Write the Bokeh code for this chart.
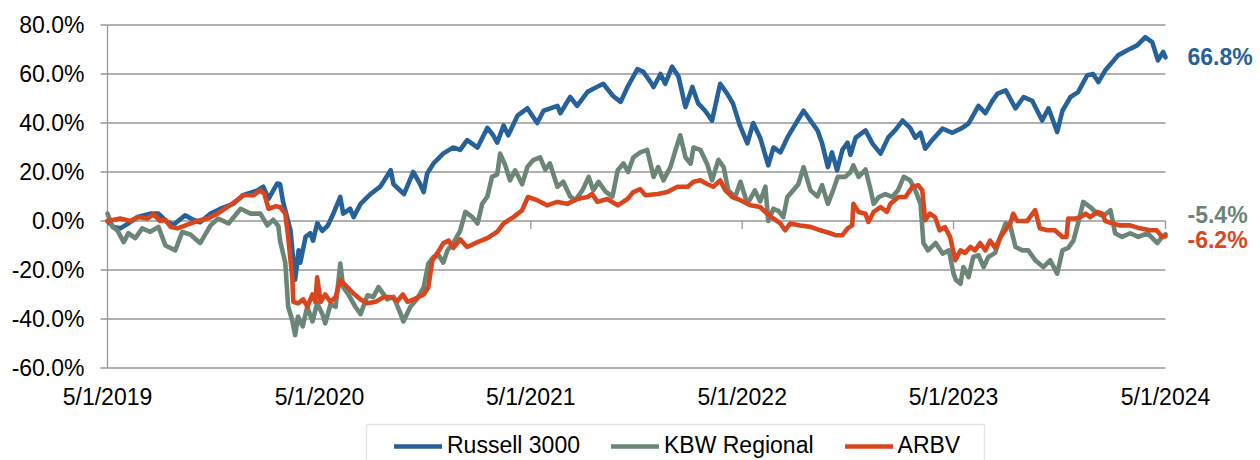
import numpy as np
import pandas as pd
from bokeh.plotting import figure
from bokeh.models import Range1d, Legend, LegendItem, BoxAnnotation
from bokeh.core.properties import value
from bokeh.embed import file_html
from bokeh.resources import INLINE

# ---------------- data (percent) ----------------
russell_dates = [
    "2019-05-01", "2019-05-11", "2019-05-23", "2019-06-06", "2019-06-22", "2019-07-14", "2019-07-28",
    "2019-08-12", "2019-08-23", "2019-09-12", "2019-09-26", "2019-10-08", "2019-10-26", "2019-11-12",
    "2019-12-04", "2019-12-21", "2020-01-15", "2020-01-25", "2020-02-03", "2020-02-18", "2020-02-23",
    "2020-02-28", "2020-03-12", "2020-03-20", "2020-03-24", "2020-03-26", "2020-03-29", "2020-04-07",
    "2020-04-15", "2020-04-20", "2020-04-27", "2020-05-06", "2020-05-15", "2020-05-25", "2020-06-06",
    "2020-06-11", "2020-06-23", "2020-06-29", "2020-07-11", "2020-07-28", "2020-08-14", "2020-09-01",
    "2020-09-06", "2020-09-24", "2020-10-10", "2020-10-22", "2020-10-28", "2020-11-03", "2020-11-14",
    "2020-12-01", "2020-12-18", "2020-12-30", "2021-01-11", "2021-01-29", "2021-02-15", "2021-02-25",
    "2021-03-04", "2021-03-15", "2021-03-23", "2021-04-08", "2021-04-25", "2021-05-12", "2021-05-23",
    "2021-06-16", "2021-06-21", "2021-07-08", "2021-07-20", "2021-08-07", "2021-08-17", "2021-09-03",
    "2021-09-20", "2021-10-03", "2021-10-15", "2021-11-01", "2021-11-11", "2021-11-23", "2021-11-29",
    "2021-12-11", "2021-12-19", "2021-12-31", "2022-01-11", "2022-01-23", "2022-02-04", "2022-02-14",
    "2022-02-26", "2022-03-10", "2022-03-24", "2022-04-05", "2022-04-15", "2022-04-27", "2022-05-10",
    "2022-05-20", "2022-06-01", "2022-06-15", "2022-06-24", "2022-07-06", "2022-07-18", "2022-07-28",
    "2022-08-15", "2022-08-27", "2022-09-08", "2022-09-16", "2022-09-26", "2022-10-03", "2022-10-12",
    "2022-10-21", "2022-10-30", "2022-11-04", "2022-11-13", "2022-11-30", "2022-12-12", "2022-12-26",
    "2023-01-08", "2023-01-20", "2023-02-02", "2023-02-15", "2023-02-24", "2023-03-05", "2023-03-13",
    "2023-03-25", "2023-04-12", "2023-04-29", "2023-05-16", "2023-05-27", "2023-06-13", "2023-06-25",
    "2023-07-07", "2023-07-16", "2023-07-30", "2023-08-16", "2023-08-30", "2023-09-14", "2023-10-01",
    "2023-10-12", "2023-10-27", "2023-11-05", "2023-11-19", "2023-12-02", "2023-12-18", "2023-12-28",
    "2024-01-06", "2024-01-18", "2024-01-27", "2024-02-09", "2024-02-25", "2024-03-13", "2024-03-27",
    "2024-04-08", "2024-04-18", "2024-04-27", "2024-05-01",
]
russell_values = [
    0.0, -2.4, -3.0, -1.0, 1.6, 3.0, 3.0,
    -0.4, -1.5, 2.3, 0.5, -0.5, 3.0, 5.0,
    7.0, 10.5, 12.5, 14.0, 9.0, 15.3, 15.0,
    8.0, -3.8, -24.0, -16.0, -12.0, -17.0, -6.5,
    -5.0, -8.0, -1.0, -4.0, -2.0, 3.0, 9.8,
    3.0, 5.0, 1.6, 7.0, 11.0, 14.0, 20.7,
    15.0, 11.0, 20.0, 15.0, 11.8, 19.4, 23.5,
    27.6, 30.0, 29.0, 33.0, 30.0, 38.0, 35.0,
    32.0, 39.0, 35.0, 43.0, 46.0, 40.0, 45.0,
    47.0, 44.0, 50.6, 47.0, 52.7, 54.0, 56.0,
    51.0, 48.6, 54.7, 62.0, 61.0, 57.0, 54.7,
    60.0, 56.0, 63.0, 59.0, 46.5, 54.7, 48.0,
    45.0, 41.0, 56.0, 52.0, 48.0, 39.0, 31.7,
    40.0, 34.0, 22.7, 30.0, 28.0, 34.0, 38.0,
    45.0, 41.0, 37.0, 31.7, 22.0, 28.0, 20.7,
    29.0, 32.0, 27.0, 34.0, 37.0, 31.6, 27.5,
    34.0, 37.0, 41.0, 38.0, 34.0, 36.0, 29.5,
    33.0, 37.7, 36.0, 38.0, 39.8, 47.0, 44.0,
    49.0, 52.0, 53.3, 46.0, 50.6, 49.0, 41.0,
    46.0, 36.3, 45.0, 50.6, 52.6, 59.5, 60.0,
    56.7, 61.5, 64.0, 67.6, 69.7, 71.7, 75.0,
    73.0, 65.6, 69.0, 66.8,
]

kbw_dates = [
    "2019-05-01", "2019-05-10", "2019-05-18", "2019-05-29", "2019-06-06", "2019-06-18", "2019-06-30",
    "2019-07-14", "2019-07-28", "2019-08-09", "2019-08-26", "2019-09-07", "2019-09-21", "2019-10-08",
    "2019-10-26", "2019-11-08", "2019-11-26", "2019-12-17", "2020-01-03", "2020-01-20", "2020-02-01",
    "2020-02-11", "2020-02-20", "2020-02-23", "2020-03-03", "2020-03-08", "2020-03-15", "2020-03-20",
    "2020-03-25", "2020-04-02", "2020-04-10", "2020-04-19", "2020-04-27", "2020-05-06", "2020-05-11",
    "2020-05-20", "2020-05-29", "2020-06-06", "2020-06-11", "2020-06-20", "2020-07-02", "2020-07-11",
    "2020-07-23", "2020-08-02", "2020-08-11", "2020-08-26", "2020-09-06", "2020-09-18", "2020-09-23",
    "2020-10-05", "2020-10-17", "2020-10-28", "2020-11-05", "2020-11-14", "2020-11-23", "2020-12-01",
    "2020-12-08", "2020-12-18", "2020-12-30", "2021-01-08", "2021-01-20", "2021-01-29", "2021-02-06",
    "2021-02-15", "2021-02-23", "2021-03-04", "2021-03-09", "2021-03-18", "2021-03-26", "2021-04-04",
    "2021-04-16", "2021-04-25", "2021-05-05", "2021-05-17", "2021-05-26", "2021-06-03", "2021-06-16",
    "2021-06-26", "2021-07-08", "2021-07-17", "2021-07-29", "2021-08-09", "2021-08-17", "2021-08-26",
    "2021-09-07", "2021-09-19", "2021-09-28", "2021-10-08", "2021-10-16", "2021-10-25", "2021-11-06",
    "2021-11-18", "2021-11-29", "2021-12-07", "2021-12-16", "2021-12-28", "2022-01-06", "2022-01-14",
    "2022-01-23", "2022-02-01", "2022-02-06", "2022-02-18", "2022-03-02", "2022-03-10", "2022-03-21",
    "2022-03-30", "2022-04-07", "2022-04-19", "2022-04-28", "2022-05-10", "2022-05-23", "2022-06-01",
    "2022-06-10", "2022-06-15", "2022-06-24", "2022-07-03", "2022-07-11", "2022-07-18", "2022-07-28",
    "2022-08-06", "2022-08-15", "2022-08-27", "2022-09-08", "2022-09-16", "2022-09-26", "2022-10-05",
    "2022-10-13", "2022-10-26", "2022-11-04", "2022-11-09", "2022-11-18", "2022-11-30", "2022-12-09",
    "2022-12-14", "2022-12-23", "2023-01-03", "2023-01-15", "2023-01-25", "2023-02-04", "2023-02-15",
    "2023-02-24", "2023-03-05", "2023-03-10", "2023-03-18", "2023-03-31", "2023-04-12", "2023-04-23",
    "2023-05-01", "2023-05-05", "2023-05-13", "2023-05-18", "2023-05-27", "2023-06-04", "2023-06-13",
    "2023-06-22", "2023-06-30", "2023-07-12", "2023-07-21", "2023-07-30", "2023-08-07", "2023-08-16",
    "2023-08-28", "2023-09-07", "2023-09-19", "2023-10-03", "2023-10-15", "2023-10-27", "2023-11-05",
    "2023-11-15", "2023-11-24", "2023-12-02", "2023-12-11", "2023-12-23", "2024-01-04", "2024-01-15",
    "2024-01-27", "2024-02-04", "2024-02-16", "2024-03-01", "2024-03-15", "2024-03-31", "2024-04-17",
    "2024-04-25", "2024-05-01",
]
kbw_values = [
    3.0, -2.4, -3.8, -8.6, -5.0, -7.0, -3.0,
    -4.4, -2.4, -10.0, -12.0, -4.5, -5.5, -9.0,
    -1.8, 1.0, -1.0, 5.0, 3.0, 3.0, -1.8,
    0.5, -2.0, -8.0, -17.0, -35.0, -40.5, -46.6,
    -39.0, -43.0, -35.0, -41.0, -33.6, -38.0, -41.8,
    -34.0, -35.0, -17.4, -27.0, -30.0, -35.0, -38.0,
    -30.3, -31.0, -27.0, -32.0, -31.0, -37.8, -41.0,
    -35.0, -31.7, -27.0, -17.4, -14.7, -14.0, -17.0,
    -12.0, -9.0, -4.0, 3.7, 1.6, -1.0, 7.0,
    10.0, 18.0, 19.0, 27.5, 22.7, 16.6, 20.7,
    15.0, 22.0, 24.8, 26.0, 21.0, 23.5, 14.0,
    16.0, 10.0, 8.5, 12.5, 18.0, 12.5, 16.0,
    12.0, 10.0, 20.7, 23.5, 20.0, 26.0, 28.0,
    29.0, 18.0, 22.0, 16.6, 22.0, 29.0, 35.0,
    26.0, 23.4, 30.0, 29.0, 23.0, 16.6, 25.0,
    22.0, 12.5, 9.8, 16.0, 7.0, 12.5, 8.0,
    14.0, 0.0, 5.0, 4.0, 1.6, 9.8, 12.5,
    15.0, 22.0, 12.5, 10.0, 14.6, 7.0, 12.5,
    18.0, 18.0, 20.0, 22.7, 18.0, 21.0, 12.5,
    7.0, 9.8, 11.0, 9.8, 12.5, 18.0, 16.6,
    12.5, 7.0, -9.0, -12.0, -9.0, -13.3, -12.0,
    -21.5, -24.0, -25.6, -18.8, -22.9, -14.7, -14.0,
    -18.8, -14.7, -13.0, -6.5, -1.0, -2.0, -10.6,
    -12.0, -12.0, -16.0, -18.8, -16.0, -21.5, -12.0,
    -11.0, -8.0, -1.0, 7.8, 5.7, 3.0, 2.0,
    4.4, -5.0, -6.5, -5.0, -6.5, -5.0, -9.0,
    -6.5, -5.4,
]

arbv_dates = [
    "2019-05-01", "2019-05-23", "2019-06-10", "2019-06-22", "2019-07-09", "2019-07-19", "2019-07-31",
    "2019-08-09", "2019-08-18", "2019-08-30", "2019-09-16", "2019-10-03", "2019-10-20", "2019-11-07",
    "2019-11-24", "2019-12-11", "2019-12-21", "2020-01-08", "2020-01-20", "2020-01-27", "2020-02-03",
    "2020-02-15", "2020-02-23", "2020-03-03", "2020-03-08", "2020-03-15", "2020-03-17", "2020-03-25",
    "2020-04-03", "2020-04-10", "2020-04-19", "2020-04-24", "2020-04-27", "2020-05-03", "2020-05-11",
    "2020-05-20", "2020-05-29", "2020-06-06", "2020-06-18", "2020-06-29", "2020-07-11", "2020-07-23",
    "2020-08-06", "2020-08-20", "2020-09-01", "2020-09-13", "2020-09-22", "2020-09-30", "2020-10-11",
    "2020-10-28", "2020-11-05", "2020-11-12", "2020-11-21", "2020-12-01", "2020-12-10", "2020-12-18",
    "2020-12-30", "2021-01-11", "2021-01-29", "2021-02-15", "2021-03-04", "2021-03-15", "2021-04-01",
    "2021-04-16", "2021-04-26", "2021-05-12", "2021-05-29", "2021-06-16", "2021-07-03", "2021-07-20",
    "2021-08-07", "2021-08-15", "2021-08-24", "2021-09-10", "2021-09-28", "2021-10-15", "2021-10-25",
    "2021-11-06", "2021-11-15", "2021-12-06", "2021-12-23", "2022-01-09", "2022-01-27", "2022-02-06",
    "2022-02-18", "2022-03-02", "2022-03-12", "2022-03-24", "2022-04-02", "2022-04-14", "2022-04-28",
    "2022-05-15", "2022-06-01", "2022-06-13", "2022-06-24", "2022-07-06", "2022-07-14", "2022-07-23",
    "2022-08-09", "2022-08-27", "2022-09-13", "2022-09-30", "2022-10-09", "2022-10-21", "2022-10-30",
    "2022-11-07", "2022-11-09", "2022-11-18", "2022-11-30", "2022-12-05", "2022-12-14", "2022-12-26",
    "2023-01-06", "2023-01-12", "2023-01-26", "2023-02-07", "2023-02-19", "2023-03-01", "2023-03-08",
    "2023-03-13", "2023-03-21", "2023-03-30", "2023-04-07", "2023-04-16", "2023-04-25", "2023-05-04",
    "2023-05-13", "2023-05-21", "2023-05-30", "2023-06-07", "2023-06-16", "2023-06-25", "2023-07-03",
    "2023-07-12", "2023-07-21", "2023-07-29", "2023-08-07", "2023-08-12", "2023-08-19", "2023-09-05",
    "2023-09-19", "2023-09-27", "2023-10-10", "2023-10-23", "2023-11-05", "2023-11-12", "2023-11-15",
    "2023-11-28", "2023-12-06", "2023-12-15", "2023-12-23", "2024-01-04", "2024-01-13", "2024-01-18",
    "2024-01-30", "2024-02-13", "2024-03-01", "2024-03-18", "2024-04-04", "2024-04-16", "2024-04-25",
    "2024-05-01",
]
arbv_values = [
    0.0, 1.0, 0.0, 1.6, 1.0, 2.8, 0.0,
    0.5, -2.4, -3.0, -1.5, 0.0, 1.0, 3.0,
    5.7, 8.5, 10.5, 10.5, 12.5, 11.0, 5.0,
    6.0, 5.7, 3.0, -6.5, -23.0, -33.0, -33.6,
    -32.0, -35.0, -30.0, -33.0, -23.0, -33.0, -30.0,
    -33.0, -31.0, -24.0, -27.0, -29.6, -32.0, -33.6,
    -33.0, -31.0, -31.0, -32.6, -30.0, -33.0, -32.0,
    -30.0, -27.0, -16.0, -13.0, -9.0, -8.0, -11.0,
    -7.5, -10.6, -8.6, -7.0, -4.4, -1.0, 1.6,
    4.4, 9.8, 8.5, 6.4, 7.8, 7.0, 9.0,
    9.8, 11.0, 7.8, 9.0, 6.4, 9.0, 11.8,
    13.0, 10.5, 11.0, 11.8, 14.0, 14.0, 16.0,
    16.6, 15.0, 14.0, 16.6, 12.5, 9.8, 8.5,
    6.4, 5.7, 3.0, 1.0, -1.0, -3.8, -1.0,
    -1.8, -2.4, -3.8, -5.0, -5.8, -5.8, -3.0,
    -1.8, 7.0, 3.7, 3.0, -0.4, 3.7, 5.7,
    3.7, 7.0, 9.8, 9.8, 14.0, 14.6, 12.5,
    0.3, 3.0, 1.6, -3.8, -2.5, -6.5, -16.0,
    -12.0, -13.0, -10.6, -12.0, -9.0, -12.0, -8.0,
    -11.0, -6.5, -3.8, -1.0, 3.0, 0.0, 0.0,
    4.4, -3.0, -3.8, -3.8, -6.5, -6.5, 1.0,
    1.0, 1.6, 3.0, 1.6, 3.7, 3.0, 0.0,
    -1.0, -1.8, -1.8, -3.0, -3.8, -3.8, -6.5,
    -6.2,
]

series_names = ["Russell 3000", "KBW Regional", "ARBV"]
end_labels = ["66.8%", "-5.4%", "-6.2%"]
x_tick_dates = ["2019-05-01", "2020-05-01", "2021-05-01", "2022-05-01", "2023-05-01", "2024-05-01"]
y_ticks = [-60, -40, -20, 0, 20, 40, 60, 80]

# ---------------- layout / styling ----------------
COLORS = ["#27619A", "#6B8576", "#D9461E"]
FONT = "Liberation Sans"
GRID = "#979797"
FS = "23px"
W, H = 1260, 460
AX_L, AX_R = 107, 1165              # pixel positions of first / last x tick
Y_TOP_PX, Y_BOT_PX = 24.5, 367.5    # pixel positions of 80% / -60%
LEG_L, LEG_R, LEG_T = 366, 984, 424  # legend frame, pixels from top-left

x0 = pd.Timestamp(x_tick_dates[0])
x1 = pd.Timestamp(x_tick_dates[-1])
days_per_px = (x1 - x0).days / (AX_R - AX_L)
x_range = Range1d(x0 - pd.Timedelta(days=AX_L * days_per_px),
                  x1 + pd.Timedelta(days=(W - AX_R) * days_per_px))
px_per_unit = (Y_BOT_PX - Y_TOP_PX) / (y_ticks[-1] - y_ticks[0])
y_range = Range1d(y_ticks[0] - (H - Y_BOT_PX) / px_per_unit,
                  y_ticks[-1] + Y_TOP_PX / px_per_unit)

p = figure(width=W, height=H, x_axis_type="datetime", x_range=x_range, y_range=y_range,
           output_backend="svg", toolbar_location=None, min_border=0,
           min_border_left=0, min_border_right=0, min_border_top=0, min_border_bottom=0)
p.outline_line_color = None
p.background_fill_color = "white"
p.border_fill_color = "white"
p.xaxis.visible = False
p.yaxis.visible = False
p.xgrid.visible = False
p.ygrid.visible = False

n_y = len(y_ticks)
# horizontal gridlines
p.segment(x0=[x0] * n_y, y0=y_ticks, x1=[x1] * n_y, y1=y_ticks, line_color=GRID, line_width=1.3)
# vertical axis line and its outward ticks
p.segment(x0=[x0], y0=[y_ticks[0]], x1=[x0], y1=[y_ticks[-1]], line_color=GRID, line_width=1.3)
p.ray(x=[x0] * n_y, y=y_ticks, length=7, length_units="screen", angle=np.pi,
      line_color=GRID, line_width=1.3)
# y tick labels
p.text(x=[x0] * n_y, y=y_ticks, text=[f"{t:.1f}%" for t in y_ticks],
       x_offset=-23, text_align="right", text_baseline="middle",
       text_font=value(FONT), text_font_size=FS, text_color="black")
# x tick marks on the 0% line
tick_ts = [pd.Timestamp(d) for d in x_tick_dates]
p.ray(x=tick_ts, y=[0] * len(tick_ts), length=8, length_units="screen", angle=-np.pi / 2,
      line_color=GRID, line_width=1.3)
# x tick labels below the -60% line
p.text(x=tick_ts, y=[y_ticks[0]] * len(tick_ts),
       text=[f"{t.month}/{t.day}/{t.year}" for t in tick_ts],
       y_offset=29, text_align="center", text_baseline="middle",
       text_font=value(FONT), text_font_size=FS, text_color="black")

# series
all_dates = [russell_dates, kbw_dates, arbv_dates]
all_values = [russell_values, kbw_values, arbv_values]
renderers = []
for dates, vals, col in zip(all_dates, all_values, COLORS):
    r = p.line(x=pd.to_datetime(dates), y=vals, line_color=col, line_width=4.6,
               line_join="round", line_cap="round")
    renderers.append(r)

# end-of-line value labels
label_offsets = [0, -19, 4]
for vals, txt, col, off in zip(all_values, end_labels, COLORS, label_offsets):
    p.text(x=[x1], y=[vals[-1]], text=[txt], x_offset=22, y_offset=off,
           text_color=col, text_font=value(FONT), text_font_size=FS,
           text_font_style="bold", text_baseline="middle", text_align="left")

# legend frame (screen units are measured from the bottom edge)
p.add_layout(BoxAnnotation(left=LEG_L, right=LEG_R, top=H - LEG_T, bottom=-15,
                           left_units="screen", right_units="screen",
                           top_units="screen", bottom_units="screen",
                           fill_color="white", fill_alpha=1.0,
                           line_color="#a6a6a6", line_width=1.3, level="overlay"))

legend = Legend(items=[LegendItem(label=n, renderers=[r]) for n, r in zip(series_names, renderers)],
                orientation="horizontal", location=(394, 1),
                padding=8, spacing=31, margin=0,
                glyph_width=48, glyph_height=20, label_standoff=5, label_height=23,
                label_text_font=FONT, label_text_font_size=FS, label_text_color="black",
                border_line_color=None, background_fill_alpha=0.0, level="overlay")
p.add_layout(legend)

open("out.html", "w").write(file_html(p, INLINE))
